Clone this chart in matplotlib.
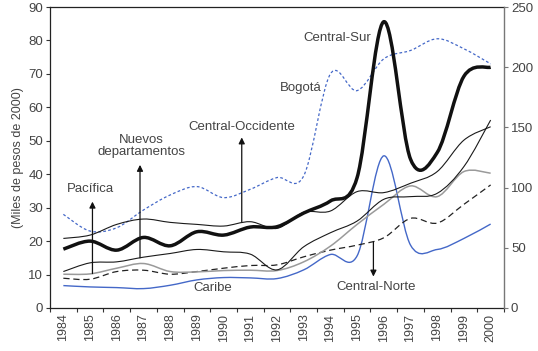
import numpy as np
import matplotlib
matplotlib.use("Agg")
import matplotlib.pyplot as plt
from matplotlib.path import Path
from matplotlib.patches import PathPatch

plt.rcParams['font.family'] = ['Liberation Sans', 'DejaVu Sans']

years = list(range(1984, 2001))

central_sur = [17.6, 20.0, 17.3, 21.1, 18.6, 22.8, 21.8, 24.2, 24.3, 28.4, 32.0, 39.0, 85.6, 44.5, 46.5, 69.3, 72.0]
bogota = [28.0, 23.0, 24.0, 29.3, 33.8, 36.3, 33.0, 35.5, 39.0, 39.5, 70.0, 65.0, 74.5, 77.0, 80.5, 77.5, 73.0]
central_occidente = [20.8, 21.8, 25.0, 26.6, 25.6, 25.0, 24.5, 25.8, 23.8, 28.6, 29.0, 34.8, 34.5, 37.3, 40.8, 50.2, 54.2]
nuevos_departamentos = [10.9, 13.5, 13.8, 15.2, 16.3, 17.5, 16.8, 16.1, 11.4, 18.3, 22.5, 26.0, 32.5, 33.3, 34.3, 42.3, 56.2]
pacifica = [10.1, 10.2, 11.9, 13.3, 10.9, 10.8, 11.2, 11.3, 11.2, 13.8, 18.5, 25.0, 31.0, 36.5, 33.3, 40.8, 40.3]
central_norte = [8.9, 8.6, 10.9, 11.3, 10.1, 10.9, 11.9, 12.7, 12.9, 15.3, 17.3, 18.8, 21.0, 26.8, 25.4, 31.0, 36.8]
caribe = [6.7, 6.3, 6.1, 5.8, 6.8, 8.4, 9.1, 9.0, 8.8, 11.4, 16.0, 15.6, 45.5, 18.8, 17.5, 20.8, 25.1]

left_ticks = list(range(0, 100, 10))
right_ticks = list(range(0, 300, 50))

TEXT = '#444444'
BLUE = '#4468c8'


def smooth_path(xs, ys):
    """Cubic Bezier path through every point (Catmull-Rom style smoothing)."""
    pts = np.column_stack([xs, ys]).astype(float)
    n = len(pts)
    verts = [pts[0]]
    codes = [Path.MOVETO]
    for i in range(n - 1):
        p0 = pts[i - 1] if i > 0 else pts[i]
        p1 = pts[i]
        p2 = pts[i + 1]
        p3 = pts[i + 2] if i + 2 < n else pts[i + 1]
        c1 = p1 + (p2 - p0) / 6.0
        c2 = p2 - (p3 - p1) / 6.0
        verts += [c1, c2, p2]
        codes += [Path.CURVE4] * 3
    return Path(verts, codes)


def draw_series(ax, values, **kw):
    x = np.arange(len(values))
    patch = PathPatch(smooth_path(x, values), fill=False, capstyle='butt',
                      joinstyle='round', **kw)
    ax.add_patch(patch)


fig = plt.figure(figsize=(5.38, 3.51), dpi=100)
ax = fig.add_axes([50 / 538, 1 - 308 / 351, 454 / 538, 301 / 351])

draw_series(ax, caribe, edgecolor=BLUE, lw=1.0, zorder=3)
draw_series(ax, central_norte, edgecolor='#222222', lw=0.9,
            linestyle=(0, (5, 3)), zorder=3)
draw_series(ax, pacifica, edgecolor='#9a9a9a', lw=1.1, zorder=3)
draw_series(ax, nuevos_departamentos, edgecolor='#1a1a1a', lw=0.8, zorder=4)
draw_series(ax, central_occidente, edgecolor='#1a1a1a', lw=0.8, zorder=4)
draw_series(ax, bogota, edgecolor=BLUE, lw=0.9,
            linestyle=(0, (2.2, 1.8)), zorder=3)
draw_series(ax, central_sur, edgecolor='#111111', lw=2.5, zorder=5)

n = len(years)
ax.set_xlim(-0.5, n - 0.5)
ax.set_ylim(0, 90)
ax.set_yticks(left_ticks)
ax.set_xticks(np.arange(-0.5, n, 1.0))
ax.set_xticklabels([])
ax.set_xticks(np.arange(n), minor=True)
ax.set_xticklabels([str(y) for y in years], minor=True, rotation=90,
                   fontsize=9, color=TEXT)
ax.tick_params(axis='x', which='major', direction='out', length=3,
               width=0.8, color='#333333')
ax.tick_params(axis='x', which='minor', length=0, pad=4)
ax.tick_params(axis='y', direction='out', length=3, width=0.8,
               labelsize=9.5, labelcolor=TEXT, color='#333333', pad=2)

for side in ('left', 'top', 'bottom'):
    ax.spines[side].set_color('#222222')
    ax.spines[side].set_linewidth(0.9)
ax.spines['right'].set_visible(False)

ax.set_ylabel('(Miles de pesos de 2000)', fontsize=9, color=TEXT, labelpad=3)

ax2 = ax.twinx()
ax2.set_ylim(0, 250)
ax2.set_yticks(right_ticks)
ax2.tick_params(axis='y', direction='out', length=3, width=0.8,
                labelsize=9.5, labelcolor=TEXT, color='#777777', pad=2)
for side in ('left', 'top', 'bottom'):
    ax2.spines[side].set_visible(False)
ax2.spines['right'].set_color('#777777')
ax2.spines['right'].set_linewidth(1.0)

# Region labels
lab = dict(fontsize=9.5, color=TEXT, ha='center', va='center', zorder=6)
ax.text(10.27, 80.7, 'Central-Sur', **lab)
ax.text(8.88, 65.7, 'Bogotá', **lab)
ax.text(6.69, 54.2, 'Central-Occidente', **lab)
ax.text(2.93, 48.3, 'Nuevos\ndepartamentos', linespacing=1.0, **lab)
ax.text(1.0, 35.6, 'Pacífica', **lab)
ax.text(5.61, 6.0, 'Caribe', **lab)
ax.text(11.73, 6.3, 'Central-Norte', **lab)

arrow = dict(arrowstyle='-|>', color='#111111', lw=0.9, mutation_scale=9,
             shrinkA=0, shrinkB=0)
ax.annotate('', xy=(1.09, 31.8), xytext=(1.09, 10.3), arrowprops=arrow, zorder=6)
ax.annotate('', xy=(2.87, 42.8), xytext=(2.87, 15.0), arrowprops=arrow, zorder=6)
ax.annotate('', xy=(6.68, 51.0), xytext=(6.68, 25.8), arrowprops=arrow, zorder=6)
ax.annotate('', xy=(11.61, 9.4), xytext=(11.61, 19.8), arrowprops=arrow, zorder=6)

fig.savefig('out.png', dpi=100)
